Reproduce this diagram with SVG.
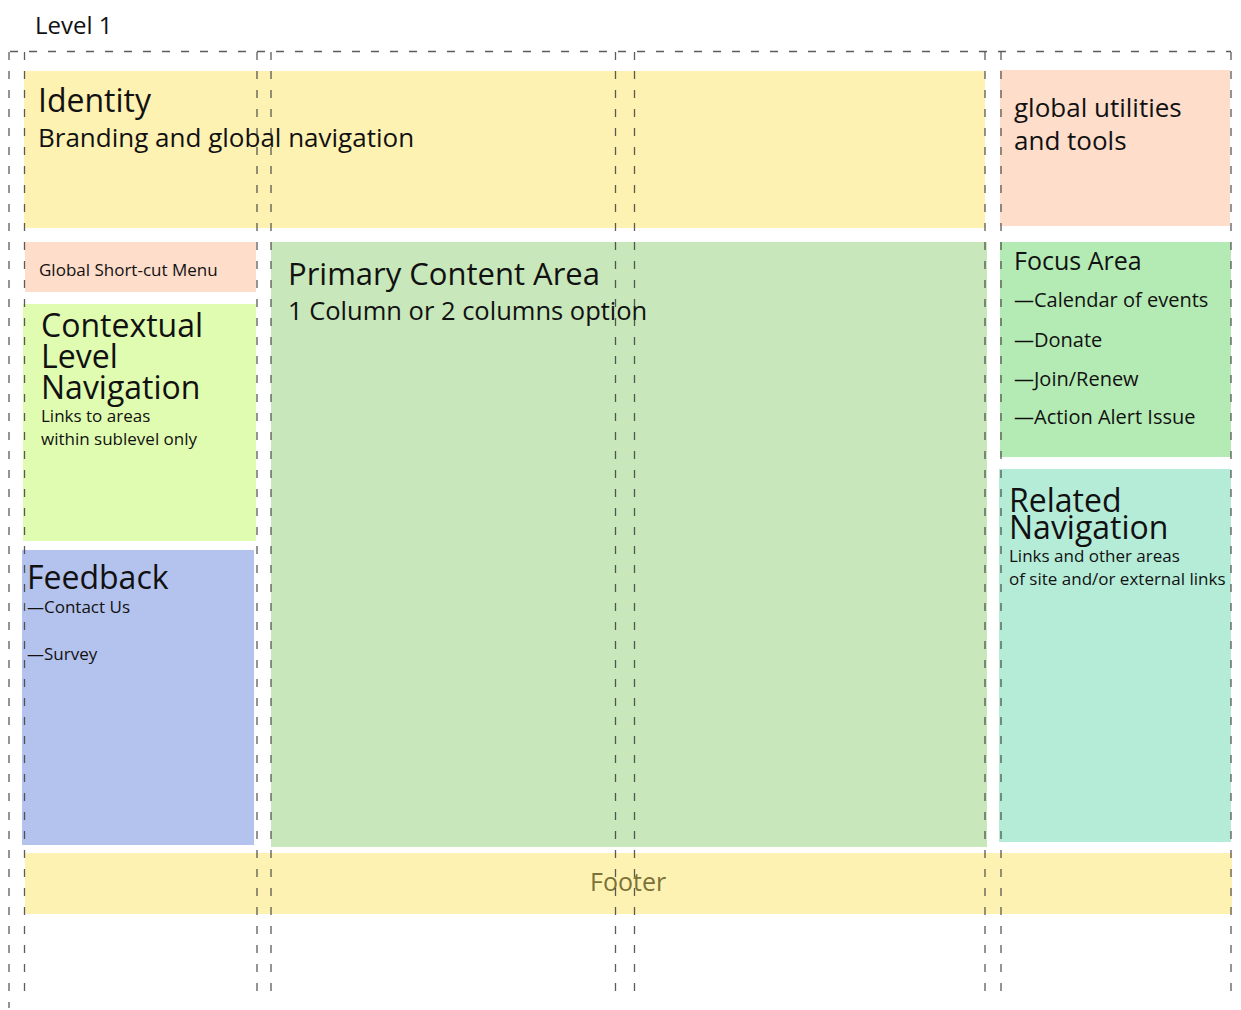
<svg xmlns="http://www.w3.org/2000/svg" width="1241" height="1010" viewBox="0 0 1241 1010">
<style>
text{font-family:"Open Sans","Noto Sans","Liberation Sans",sans-serif;fill:#111}
.big{font-size:32px}
.mid{font-size:26px}
.sm{font-size:17px}
.it{font-size:20px}
.g{stroke:#333;stroke-width:1.3;stroke-dasharray:8 11;fill:none;stroke-opacity:0.8}
</style>
<rect width="1241" height="1010" fill="#fff"/>
<text x="35" y="34" style="font-size:24px">Level 1</text>
<g id="identity"><rect x="24" y="71" width="961" height="157" fill="#fef2b3"/>
<text x="38" y="112" class="big">Identity</text>
<text x="38" y="147" class="mid">Branding and global navigation</text></g>
<g id="utilities"><rect x="1000" y="70" width="230" height="156" fill="#feddcb"/>
<text x="1014" y="117" class="mid">global utilities</text>
<text x="1014" y="150" class="mid">and tools</text></g>
<g id="shortcut"><rect x="25" y="242" width="231" height="50" fill="#feddcb"/>
<text x="39" y="276" class="sm">Global Short-cut Menu</text></g>
<g id="contextual"><rect x="23" y="304" width="233" height="237" fill="#e0fcb0"/>
<text x="41" y="337" class="big">Contextual</text>
<text x="41" y="368" class="big">Level</text>
<text x="41" y="399" class="big">Navigation</text>
<text x="41" y="422" class="sm">Links to areas</text>
<text x="41" y="445" class="sm">within sublevel only</text></g>
<g id="feedback"><rect x="22" y="550" width="232" height="295" fill="#b4c2ee"/>
<text x="27" y="589" class="big">Feedback</text>
<text x="27" y="613" class="sm">—Contact Us</text>
<text x="27" y="660" class="sm">—Survey</text></g>
<g id="primary"><rect x="271" y="242" width="716" height="605" fill="#c8e7ba"/>
<text x="288" y="285" style="font-size:31px">Primary Content Area</text>
<text x="288" y="320" style="font-size:25.5px">1 Column or 2 columns option</text></g>
<g id="focus"><rect x="1000" y="242" width="231" height="215" fill="#b4ebb4"/>
<text x="1014" y="270" style="font-size:25px">Focus Area</text>
<text x="1014" y="307" class="it">—Calendar of events</text>
<text x="1014" y="347" class="it">—Donate</text>
<text x="1014" y="386" class="it">—Join/Renew</text>
<text x="1014" y="424" class="it">—Action Alert Issue</text></g>
<g id="related"><rect x="999" y="469" width="232" height="373" fill="#b4ecd8"/>
<text x="1009" y="512" class="big">Related</text>
<text x="1009" y="539" class="big">Navigation</text>
<text x="1009" y="562" class="sm">Links and other areas</text>
<text x="1009" y="585" class="sm">of site and/or external links</text></g>
<g id="footer"><rect x="25" y="853" width="1207" height="61" fill="#fef2b3"/>
<text x="590" y="891" style="font-size:25px;fill:#7a7238">Footer</text></g>
<g id="grid">
<path class="g" d="M10 51.5H1231"/>
<path class="g" d="M9 52V1008"/>
<path class="g" d="M24.5 52V1000"/>
<path class="g" d="M257 52V1000"/>
<path class="g" d="M271 52V1000"/>
<path class="g" d="M615.5 52V1000"/>
<path class="g" d="M634.5 52V1000"/>
<path class="g" d="M985 52V1000"/>
<path class="g" d="M1001 52V1000"/>
<path class="g" d="M1231 52V1000"/>
</g>
</svg>
